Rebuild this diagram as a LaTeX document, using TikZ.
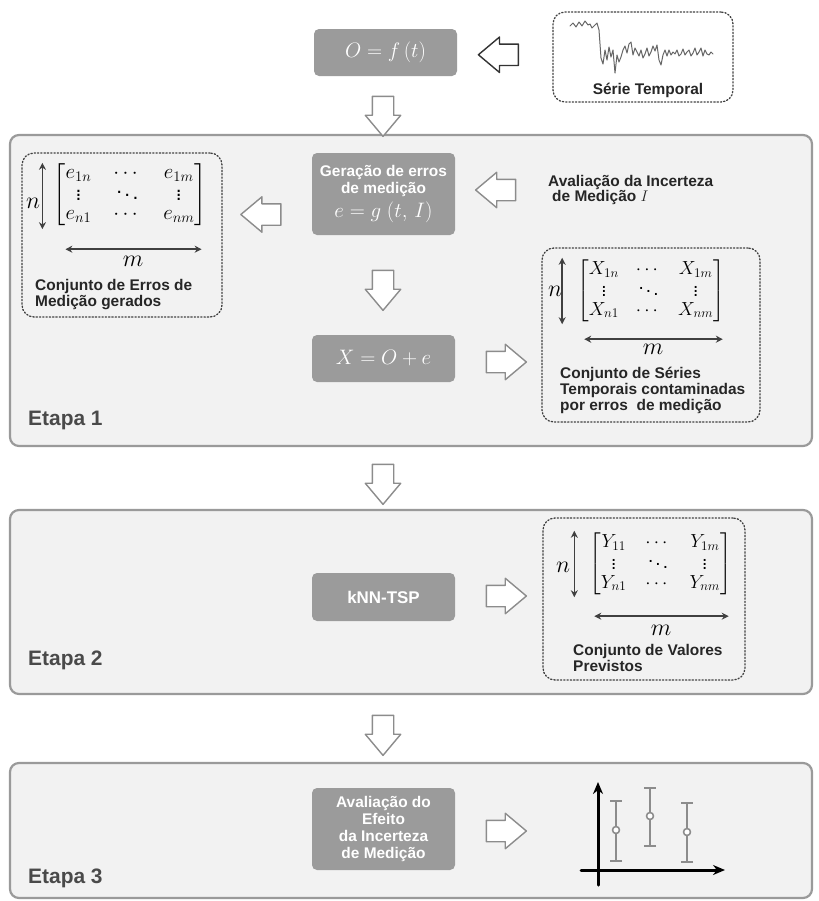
\RequirePackage{fix-cm}
\documentclass[tikz,border=0pt]{standalone}
\usepackage{amsmath}
\usepackage{fontspec}
\setmainfont{Liberation Sans}
\usetikzlibrary{shapes.arrows,arrows.meta,positioning,calc}

\definecolor{boxgray}{HTML}{9B9B9B}
\definecolor{panelfill}{HTML}{F2F2F2}
\definecolor{panelline}{HTML}{9A9A9A}
\definecolor{arrowgray}{HTML}{8C8C8C}
\definecolor{labelgray}{HTML}{4A4A4A}

\tikzset{
  procbox/.style={fill=boxgray, rounded corners=5bp, text=white, align=center,
    font=\bfseries\fontsize{15.5}{17}\selectfont, minimum width=143bp, inner sep=2bp},
  panel/.style={draw=panelline, line width=2.2bp, fill=panelfill, rounded corners=9bp},
  dotbox/.style={draw=black!75, dotted, line width=1.3bp, rounded corners=12bp},
  blockarrow/.style={single arrow, draw=arrowgray, fill=white, line width=1.4bp,
    minimum width=34bp, minimum height=40bp, single arrow head extend=7bp,
    single arrow tip angle=80, inner sep=10bp},
  dimarrow/.style={{Stealth[length=7bp,width=7bp]}-{Stealth[length=7bp,width=7bp]},
    draw=black!75, line width=1.4bp},
  dimlabel/.style={font=\fontsize{24}{24}\selectfont, inner sep=0bp},
  matnode/.style={font=\fontsize{21}{19}\selectfont, inner sep=0bp},
  caption/.style={font=\bfseries\fontsize{15.5}{16}\selectfont, align=left,
    anchor=north west, inner sep=0bp, text=black!85},
  steplabel/.style={font=\bfseries\fontsize{21}{22}\selectfont, text=labelgray,
    anchor=west, inner sep=0bp},
  errbar/.style={draw=arrowgray, line width=2bp,
    {Bar[width=12bp,line width=2bp]}-{Bar[width=12bp,line width=2bp]}},
  errpt/.style={circle, draw=arrowgray, fill=white, line width=1.6bp,
    minimum size=7bp, inner sep=0bp}
}

\begin{document}
\begin{tikzpicture}[x=1bp, y=-1bp, line join=round, line cap=round]
\useasboundingbox (0,0) rectangle (819,901);

% panels
\draw[panel] (10,135) rectangle (812,446);
\draw[panel] (10,510) rectangle (812,694);
\draw[panel] (10,763) rectangle (812,898);
\node[steplabel] (etapa1) at (28,420) {Etapa 1};
\node[steplabel] (etapa2) at (28,660) {Etapa 2};
\node[steplabel] (etapa3) at (28,878) {Etapa 3};

% topo
\node[procbox, minimum height=47bp, font=\fontsize{21}{22}\selectfont] (obs) at (385.5,52.5) {$O = f\,(t)$};
\node[dotbox, minimum width=180bp, minimum height=90bp] (serie) at (643,57) {};
\draw[black!60, line width=1bp] plot coordinates {(570,26) (573,23) (576,27) (579,22) (582,26) (585,21) (588,25) (590,24) (592,28) (594,26) (597,23) (599,30) (601,58) (603,64) (605,50) (607,60) (609,47) (611,57) (613,50) (615,73) (617,55) (619,62) (621,57) (623,50) (625,46) (627,53) (629,44) (631,42) (633,55) (635,48) (637,52) (639,56) (641,50) (643,58) (645,54) (647,48) (649,56) (651,52) (653,46) (655,51) (657,45) (659,60) (661,65) (663,55) (665,50) (667,56) (669,50) (671,55) (673,52) (675,54) (677,50) (679,56) (681,54) (683,49) (685,55) (687,52) (689,50) (691,56) (693,53) (695,48) (697,55) (699,52) (701,48) (703,56) (705,50) (707,54) (709,55) (711,52) (713,54)};
\node[caption, anchor=center] (serietxt) at (648,90) {Série Temporal};
\node[blockarrow, draw=black!80, shape border rotate=180] (a0) at ($(serie.west)!0.5!(obs.east)$) {};
\node[blockarrow, shape border rotate=270] (d0) at (383,110) {};

% etapa 1
\node[procbox, minimum height=82bp] (gera) at (383.5,194) {Geração de erros\\de medição\\[5bp]{\fontsize{21}{22}\selectfont$e = g\;(t,\,I)$}};
\node[caption, anchor=west] (incert) at (548,190) {Avaliação da Incerteza\\\hspace{4bp}de Medição $I$};
\node[blockarrow, shape border rotate=180] (a2) at (502,190) {};

\node[dotbox, minimum width=200bp, minimum height=164bp] (ebox) at (122,235) {};
\node[matnode] (emat) at (130,195) {$\setlength\arraycolsep{11bp}\begin{bmatrix} e_{1n} & \cdots & e_{1m}\\ \vdots & \ddots & \vdots\\ e_{n1} & \cdots & e_{nm}\end{bmatrix}$};
\draw[dimarrow] ([xshift=-11bp,yshift=1bp]emat.north west) -- ([xshift=-11bp,yshift=-3bp]emat.south west);
\draw[dimarrow] ([xshift=12bp,yshift=-23bp]emat.south west) -- ([xshift=-5bp,yshift=-23bp]emat.south east);
\node[dimlabel] (en) at (33,203) {$n$};
\node[dimlabel] (em) at (133,261) {$m$};
\node[caption] (etxt) at (35,279) {Conjunto de Erros de\\Medição gerados};
\node[blockarrow, shape border rotate=180] (a1) at ($(ebox.east)!0.5!(gera.west)$ |- gera) {};

\node[blockarrow, shape border rotate=270] (d1) at (383,284) {};
\node[procbox, minimum height=47bp, font=\fontsize{21}{22}\selectfont] (soma) at (383.5,358.5) {$X = O + e$};

\node[dotbox, minimum width=218bp, minimum height=174bp] (xbox) at (651,335) {};
\node[matnode, font=\fontsize{19}{19}\selectfont] (xmat) at (651,291) {$\setlength\arraycolsep{8.5bp}\begin{bmatrix} X_{1n} & \cdots & X_{1m}\\ \vdots & \ddots & \vdots\\ X_{n1} & \cdots & X_{nm}\end{bmatrix}$};
\draw[dimarrow] ([xshift=-15bp,yshift=2bp]xmat.north west) -- ([xshift=-15bp,yshift=-2bp]xmat.south west);
\draw[dimarrow] ([xshift=7bp,yshift=-17bp]xmat.south west) -- ([xshift=-2bp,yshift=-17bp]xmat.south east);
\node[dimlabel] (xn) at (555,291) {$n$};
\node[dimlabel] (xm) at (653,349) {$m$};
\node[caption] (xtxt) at (560,367) {Conjunto de Séries\\Temporais contaminadas\\por erros\ \ de medição};
\node[blockarrow] (a3) at (500,362) {};

% etapa 2
\node[blockarrow, shape border rotate=270] (d2) at (383,478) {};
\node[procbox, minimum height=48bp, font=\bfseries\fontsize{17}{18}\selectfont] (knn) at (383.5,597) {kNN-TSP};
\node[dotbox, minimum width=202bp, minimum height=162bp] (ybox) at (644,599) {};
\node[matnode, font=\fontsize{19}{19}\selectfont] (ymat) at (660.5,564) {$\setlength\arraycolsep{9.5bp}\begin{bmatrix} Y_{11} & \cdots & Y_{1m}\\ \vdots & \ddots & \vdots\\ Y_{n1} & \cdots & Y_{nm}\end{bmatrix}$};
\draw[dimarrow] ([xshift=-15bp,yshift=2bp]ymat.north west) -- ([xshift=-15bp,yshift=-2bp]ymat.south west);
\draw[dimarrow] ([xshift=5bp,yshift=-21bp]ymat.south west) -- ([xshift=-3bp,yshift=-21bp]ymat.south east);
\node[dimlabel] (yn) at (563,567) {$n$};
\node[dimlabel] (ym) at (661,630) {$m$};
\node[caption] (ytxt) at (573,644) {Conjunto de Valores\\Previstos};
\node[blockarrow] (a4) at (500,596) {};

% etapa 3
\node[blockarrow, shape border rotate=270] (d3) at (383,729) {};
\node[procbox, minimum height=82bp] (efeito) at (383.5,829) {Avaliação do\\Efeito\\da Incerteza\\de Medição};
\node[blockarrow] (a5) at (500,831) {};
\coordinate (orig) at (598,870);
\draw[-{Stealth[length=12bp,width=10bp]}, line width=3bp] ([yshift=-15bp]orig) -- (598,782);
\draw[-{Stealth[length=12bp,width=10bp]}, line width=3bp] ([xshift=-17bp]orig) -- (725,870);
\draw[errbar] (616,800) -- (616,862);
\draw[errbar] (650,787) -- (650,847);
\draw[errbar] (687,802) -- (687,863);
\node[errpt] (p1) at (616,830) {};
\node[errpt] (p2) at (650,816) {};
\node[errpt] (p3) at (687,832) {};
\end{tikzpicture}
\end{document}
